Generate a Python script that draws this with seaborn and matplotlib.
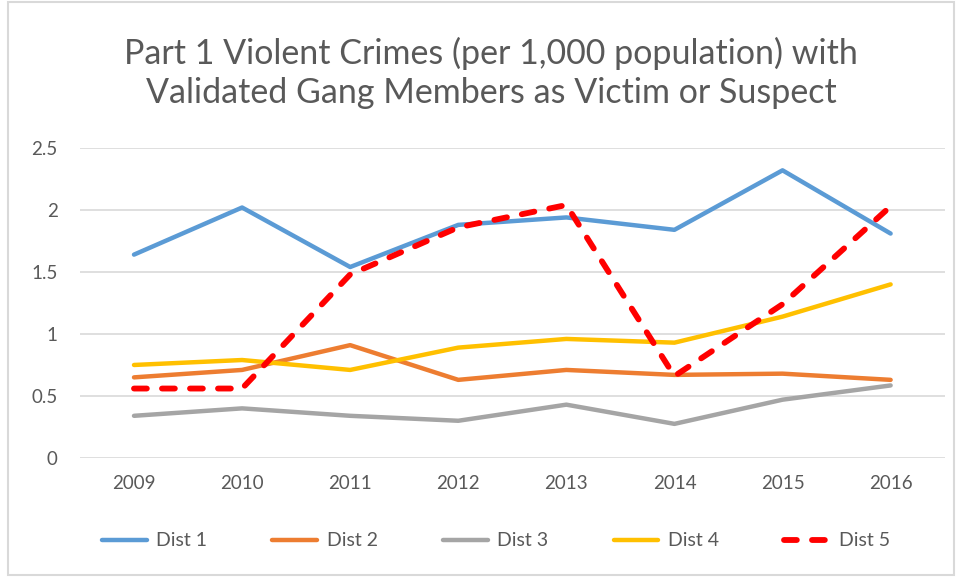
import matplotlib
matplotlib.use("Agg")
import matplotlib.pyplot as plt
import seaborn as sns
import pandas as pd
from matplotlib.patches import Rectangle

# Data
years = [2009, 2010, 2011, 2012, 2013, 2014, 2015, 2016]
dist1 = [1.64, 2.02, 1.54, 1.88, 1.94, 1.84, 2.32, 1.81]
dist2 = [0.65, 0.71, 0.91, 0.63, 0.71, 0.67, 0.68, 0.63]
dist3 = [0.34, 0.40, 0.34, 0.30, 0.43, 0.275, 0.47, 0.585]
dist4 = [0.75, 0.79, 0.71, 0.89, 0.96, 0.93, 1.14, 1.40]
dist5 = [0.56, 0.56, 1.48, 1.86, 2.04, 0.66, 1.24, 2.03]

names = ['Dist 1', 'Dist 2', 'Dist 3', 'Dist 4', 'Dist 5']
colors = ['#5B9BD5', '#ED7D31', '#A5A5A5', '#FFC000', '#FF0000']

df = pd.DataFrame({'Year': years, 'Dist 1': dist1, 'Dist 2': dist2,
                   'Dist 3': dist3, 'Dist 4': dist4, 'Dist 5': dist5})
long = df.melt(id_vars='Year', var_name='District', value_name='Rate')

sns.set_style("white")
plt.rcParams['font.family'] = ['Lato', 'DejaVu Sans']
txt = '#595959'

fig = plt.figure(figsize=(9.61, 5.77), dpi=100)
ax = fig.add_axes([0.0832, 0.2063, 0.8998, 0.5372])

for name, col in zip(names, colors):
    sub = long[long['District'] == name]
    if name == 'Dist 5':
        sns.lineplot(data=sub, x='Year', y='Rate', ax=ax, color=col, lw=4.2,
                     linestyle=(0, (2.2, 2.6)), label=name)
    else:
        sns.lineplot(data=sub, x='Year', y='Rate', ax=ax, color=col, lw=3.2, label=name)
for ln in ax.get_lines():
    ln.set_dash_capstyle('round')
    ln.set_solid_capstyle('round')
    ln.set_solid_joinstyle('round')

ax.set_xlim(2008.5, 2016.5)
ax.set_ylim(0, 2.5)
ax.set_yticks([0, 0.5, 1, 1.5, 2, 2.5])
ax.set_yticklabels(['0', '0.5', '1', '1.5', '2', '2.5'])
ax.set_xticks(years)
ax.set_xticklabels([str(y) for y in years])
ax.grid(axis='y', color='#D9D9D9', lw=1.2)
ax.set_axisbelow(True)
for s in ax.spines.values():
    s.set_visible(False)
ax.tick_params(axis='both', length=0, labelsize=13.5, colors=txt)
ax.tick_params(axis='y', pad=16)
ax.tick_params(axis='x', pad=12)
ax.set_xlabel('')
ax.set_ylabel('')

handles, labels = ax.get_legend_handles_labels()
ax.legend_.remove()
fig.legend(handles, labels, loc='center', bbox_to_anchor=(0.516, 1 - 541 / 577),
           ncol=5, frameon=False, fontsize=14, labelcolor=txt,
           handlelength=2.3, handletextpad=0.5, columnspacing=3.35)

fig.text(0.511, 1 - 73 / 577,
         'Part 1 Violent Crimes (per 1,000 population) with\nValidated Gang Members as Victim or Suspect',
         ha='center', va='center', fontsize=24.5, color=txt, linespacing=1.28)

fig.patches.append(Rectangle((8 / 961, 2 / 577), 946 / 961, 573 / 577,
                             transform=fig.transFigure, fill=False,
                             edgecolor='#D9D9D9', lw=1.5))

fig.savefig('out.png', dpi=100)
